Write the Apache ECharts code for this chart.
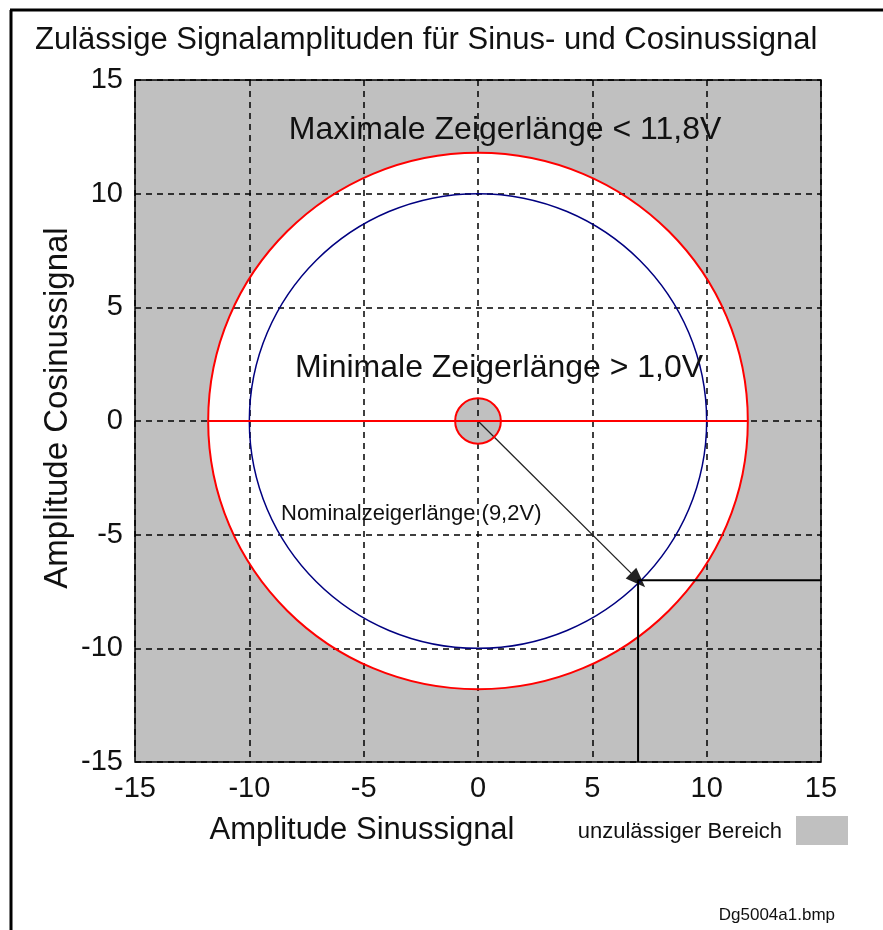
<!DOCTYPE html>
<html>
<head>
<meta charset="utf-8">
<script src="https://cdn.jsdelivr.net/npm/echarts/dist/echarts.min.js"></script>
<style>
  html, body { margin: 0; padding: 0; background: #fff; }
  #chart { width: 883px; height: 930px; }
</style>
</head>
<body>
<div id="chart"></div>
<script>
// values
const axisMin = -15;
const axisMax = 15;
const axisStep = 5;
const maxLength = 11.8;      // outer limit
const nominalCircle = 10;    // blue circle
const minLength = 1.0;       // inner limit
const zeroLineX = [-11.8, 11.8];
const nominalTip = [7, -7];
const cornerLine = [[15, -7], [7, -7], [7, -15]];

const FONT = 'Liberation Sans, Arial, sans-serif';
const GRAY = '#c0c0c0';
const TXT = '#111';

// filled discs (drawn under the grid lines)
const fillRadii = [maxLength, minLength];
const fillColors = ['#ffffff', GRAY];
// outlines (drawn over the grid lines)
const ringRadii = [maxLength, nominalCircle, minLength];
const ringColors = ['#ff0000', '#000080', '#ff0000'];
const ringWidths = [2, 1.5, 2];

function ellipseAt(api, r) {
  const c = api.coord([0, 0]);
  return {
    cx: c[0], cy: c[1],
    rx: api.size([r, 0])[0],
    ry: api.size([0, r])[1]
  };
}

const chart = echarts.init(document.getElementById('chart'));

const option = {
  backgroundColor: '#fff',
  animation: false,
  grid: {
    left: 135, right: 62, top: 80, bottom: 168,
    show: true,
    backgroundColor: GRAY,
    borderColor: '#000',
    borderWidth: 1.5
  },
  xAxis: {
    type: 'value', min: axisMin, max: axisMax, interval: axisStep,
    z: 3,
    axisLine: { show: false },
    axisTick: { show: false },
    axisLabel: { fontFamily: FONT, fontSize: 29, color: TXT, margin: 12 },
    splitLine: { lineStyle: { color: '#000', type: [6, 5], width: 1.5 } }
  },
  yAxis: {
    type: 'value', min: axisMin, max: axisMax, interval: axisStep,
    z: 3,
    axisLine: { show: false },
    axisTick: { show: false },
    axisLabel: { fontFamily: FONT, fontSize: 29, color: TXT, margin: 12 },
    splitLine: { lineStyle: { color: '#000', type: [6, 5], width: 1.5 } }
  },
  series: [
    {
      type: 'custom', z: 1, silent: true,
      data: fillRadii.map(r => [r]),
      renderItem: (params, api) => ({
        type: 'ellipse',
        shape: ellipseAt(api, api.value(0)),
        style: { fill: fillColors[params.dataIndex], stroke: null }
      })
    },
    {
      type: 'custom', z: 5, silent: true,
      data: ringRadii.map(r => [r]),
      renderItem: (params, api) => ({
        type: 'ellipse',
        shape: ellipseAt(api, api.value(0)),
        style: {
          fill: 'none',
          stroke: ringColors[params.dataIndex],
          lineWidth: ringWidths[params.dataIndex]
        }
      })
    },
    {
      type: 'line', z: 5, silent: true, showSymbol: false,
      data: zeroLineX.map(x => [x, 0]),
      lineStyle: { color: '#ff0000', width: 2 }
    },
    {
      type: 'line', z: 6, silent: true, showSymbol: false,
      data: cornerLine,
      lineStyle: { color: '#000', width: 2 },
      markLine: {
        silent: true,
        symbol: ['none', 'triangle'],
        symbolSize: [15, 20],
        label: { show: false },
        lineStyle: { color: '#222', width: 1.3, type: 'solid' },
        itemStyle: { color: '#000' },
        data: [[{ coord: [0, 0] }, { coord: nominalTip }]]
      }
    }
  ],
  graphic: [
    { type: 'line', shape: { x1: 10, y1: 10, x2: 883, y2: 10 }, style: { stroke: '#000', lineWidth: 3 } },
    { type: 'line', shape: { x1: 11, y1: 10, x2: 11, y2: 930 }, style: { stroke: '#000', lineWidth: 3 } },
    {
      type: 'text', left: 35, top: 25,
      style: { text: 'Zulässige Signalamplituden für Sinus- und Cosinussignal', font: '31px ' + FONT, fill: TXT }
    },
    {
      type: 'text', x: 362, y: 830,
      style: { text: 'Amplitude Sinussignal', font: '31px ' + FONT, fill: TXT, align: 'center', verticalAlign: 'middle' }
    },
    {
      type: 'text', x: 58, y: 408, rotation: Math.PI / 2,
      style: { text: 'Amplitude Cosinussignal', font: '33px ' + FONT, fill: TXT, align: 'center', verticalAlign: 'middle' }
    },
    {
      type: 'text', x: 505, y: 130, z: 10,
      style: { text: 'Maximale Zeigerlänge < 11,8V', font: '32px ' + FONT, fill: TXT, align: 'center', verticalAlign: 'middle' }
    },
    {
      type: 'text', x: 499, y: 368, z: 10,
      style: { text: 'Minimale Zeigerlänge > 1,0V', font: '32px ' + FONT, fill: TXT, align: 'center', verticalAlign: 'middle' }
    },
    {
      type: 'text', x: 281, y: 514, z: 10,
      style: { text: 'Nominalzeigerlänge (9,2V)', font: '22px ' + FONT, fill: TXT, align: 'left', verticalAlign: 'middle' }
    },
    {
      type: 'text', x: 782, y: 832,
      style: { text: 'unzulässiger Bereich', font: '22px ' + FONT, fill: TXT, align: 'right', verticalAlign: 'middle' }
    },
    { type: 'rect', shape: { x: 796, y: 816, width: 52, height: 29 }, style: { fill: GRAY } },
    {
      type: 'text', x: 835, y: 915,
      style: { text: 'Dg5004a1.bmp', font: '17px ' + FONT, fill: TXT, align: 'right', verticalAlign: 'middle' }
    }
  ]
};

chart.setOption(option);
</script>
</body>
</html>
